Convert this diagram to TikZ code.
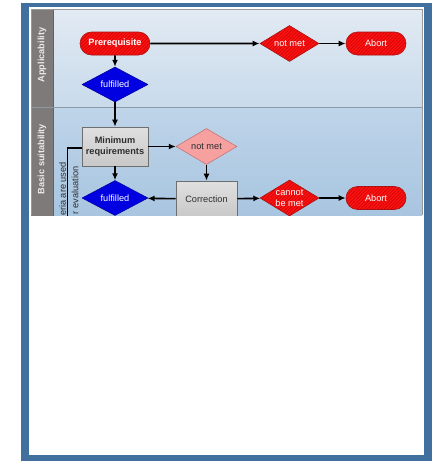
\documentclass[tikz,border=0pt]{standalone}
\usepackage{fontspec}
\setmainfont{Liberation Sans}
\usetikzlibrary{shapes.geometric,shapes.misc,arrows.meta,patterns.meta}

\definecolor{frameblue}{RGB}{66,112,158}
\definecolor{laneAtop}{RGB}{226,234,243}
\definecolor{laneAbot}{RGB}{200,218,235}
\definecolor{laneBtop}{RGB}{190,212,233}
\definecolor{laneBbot}{RGB}{168,197,224}
\definecolor{headgrey}{RGB}{125,122,121}
\definecolor{sepgrey}{RGB}{140,152,166}
\definecolor{redfill}{RGB}{250,20,20}
\definecolor{redstripe}{RGB}{210,0,0}
\definecolor{rededge}{RGB}{170,20,20}
\definecolor{bluefill}{RGB}{0,0,225}
\definecolor{blueedge}{RGB}{0,0,150}
\definecolor{pinkfill}{RGB}{246,160,160}
\definecolor{pinkedge}{RGB}{190,110,110}
\definecolor{boxtop}{RGB}{224,224,224}
\definecolor{boxbot}{RGB}{200,200,200}
\definecolor{boxedge}{RGB}{110,110,110}
\definecolor{darktext}{RGB}{45,45,45}

\begin{document}
\begin{tikzpicture}[x=1pt,y=-1pt,
  font=\fontsize{9.2}{10.5}\selectfont,
  hatched/.style={preaction={fill=redfill},
    pattern={Lines[angle=45,distance=2.4pt,line width=0.6pt]},
    pattern color=redstripe, draw=rededge, line width=0.6pt, text=white},
  pill/.style={rounded rectangle, hatched, minimum height=23pt, inner sep=1pt},
  reddia/.style={diamond, hatched, minimum width=59pt, minimum height=36pt,
    inner sep=0pt, aspect=1.64, align=center},
  bluedia/.style={diamond, fill=bluefill, draw=blueedge, line width=0.5pt,
    text=white, minimum width=66pt, minimum height=35pt, inner sep=0pt, aspect=1.8},
  pinkdia/.style={diamond, fill=pinkfill, draw=pinkedge, line width=0.5pt,
    text=darktext, minimum width=61pt, minimum height=36pt, inner sep=0pt, aspect=1.7},
  greybox/.style={rectangle, top color=boxtop, bottom color=boxbot, draw=boxedge,
    line width=0.6pt, text=darktext, align=center, inner sep=1pt},
  arr/.style={draw=black, line width=1.6pt, -{Latex[length=7pt,width=6pt]}},
  plain/.style={draw=black, line width=1.6pt},
  lanehead/.style={rotate=90, text=white!92!black, font=\fontsize{9.2}{10.5}\selectfont\bfseries},
  crittext/.style={rotate=90, anchor=east, text=darktext, inner sep=0pt}
]
\useasboundingbox (0,0) rectangle (432,461);

% page frame
\fill[frameblue] (21,2.5) rectangle (432,461);
\fill[white] (29,7) rectangle (424,455);

% swimlane diagram, cut off at its lower edge
\begin{scope}
  \clip (31,9.5) rectangle (422,215);
  \shade[top color=laneAtop, bottom color=laneAbot] (53,9.5) rectangle (422,107.5);
  \shade[top color=laneBtop, bottom color=laneBbot] (53,107.5) rectangle (422,216);
  \fill[headgrey] (31,9.5) rectangle (53,216);
  \draw[headgrey!80!black, line width=0.6pt] (53,9.5) -- (53,216);
  \draw[sepgrey, line width=1.2pt] (31,107.5) -- (422,107.5);

  \node[lanehead] (laneA) at (42,55) {Applicability};
  \node[lanehead] (laneB) at (42,159) {Basic suitability};

  % nodes
  \node[pill, minimum width=72pt, font=\fontsize{9.2}{10.5}\selectfont\bfseries] (pre) at (115,43.5) {Prerequisite};
  \node[reddia] (nm1) at (289.5,43.5) {not met};
  \node[pill, minimum width=62pt] (ab1) at (376,43.5) {Abort};
  \node[bluedia] (ful1) at (115,84.5) {fulfilled};
  \node[greybox, minimum width=66pt, minimum height=39pt, font=\fontsize{9.2}{11}\selectfont\bfseries] (minreq) at (115,146.5) {Minimum\\requirements};
  \node[pinkdia] (nm2) at (206.5,146.5) {not met};
  \node[bluedia] (ful2) at (115,198) {fulfilled};
  \node[greybox, minimum width=61pt, minimum height=36pt] (corr) at (206.5,199) {Correction};
  \node[reddia] (cbm) at (289.5,198) {cannot\\be met};
  \node[pill, minimum width=62pt] (ab2) at (376,198) {Abort};

  % criteria note along the left side
  \node[crittext] (critA) at (62.5,162) {eria are used};
  \node[crittext] (critB) at (75,166.5) {r evaluation};
  \coordinate (critend) at (67.5,230);

  % connectors
  \draw[arr] (pre) -- (nm1);
  \draw[arr] (nm1) -- (ab1);
  \draw[arr] (pre) -- (ful1);
  \draw[arr] (ful1) -- (minreq);
  \draw[arr] (minreq) -- (nm2);
  \draw[arr] (nm2) -- (corr);
  \draw[arr] (minreq) -- (ful2);
  \draw[arr] (corr) -- (ful2);
  \draw[arr] (corr) -- (cbm);
  \draw[arr] (cbm) -- (ab2);
  \draw[plain] ([yshift=-1.5pt]minreq.west) -| (critend);
\end{scope}
\draw[gray!80, line width=0.7pt] (31,215) |- (422,9.5) -- (422,215);
\end{tikzpicture}
\end{document}
